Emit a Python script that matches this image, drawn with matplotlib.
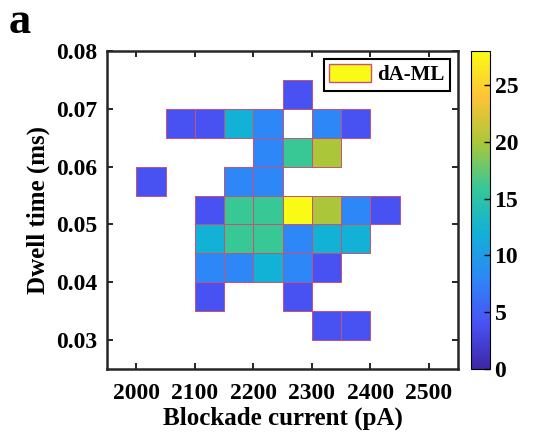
import numpy as np
import matplotlib
matplotlib.use("Agg")
import matplotlib.pyplot as plt
from matplotlib.colors import LinearSegmentedColormap, Normalize
from matplotlib.cm import ScalarMappable
from matplotlib.patches import Patch

# serif bold, like the MATLAB figure
matplotlib.rc('font', family='Liberation Serif', weight='bold')

# bin edges
x_edges = np.arange(2000, 2451, 50)          # blockade current (pA)
y_edges = np.round(np.arange(0.030, 0.0751, 0.005), 3)   # dwell time (ms)

# counts per bin, rows = dwell time bins (low -> high), cols = current bins
nan = np.nan
counts = np.array([
    # 2000 2050 2100 2150 2200 2250 2300 2350 2400
    [nan, nan, nan, nan, nan, nan, 4,   4,   nan],   # 0.030
    [nan, nan, 4,   nan, nan, 4,   nan, nan, nan],   # 0.035
    [nan, nan, 8,   8,   12,  8,   4,   nan, nan],   # 0.040
    [nan, nan, 12,  16,  16,  8,   12,  12,  nan],   # 0.045
    [nan, nan, 4,   16,  16,  28,  20,  8,   4],     # 0.050
    [4,   nan, nan, 8,   8,   nan, nan, nan, nan],   # 0.055
    [nan, nan, nan, nan, 8,   16,  20,  nan, nan],   # 0.060
    [nan, 4,   4,   12,  8,   nan, 8,   4,   nan],   # 0.065
    [nan, nan, nan, nan, nan, 4,   nan, nan, nan],   # 0.070
])

# rough parula
parula = LinearSegmentedColormap.from_list('parula', [
    (0.2422, 0.1504, 0.6603),
    (0.2810, 0.3228, 0.9579),
    (0.1786, 0.5289, 0.9682),
    (0.0689, 0.6948, 0.8394),
    (0.2161, 0.7843, 0.5923),
    (0.6720, 0.7793, 0.2227),
    (0.9970, 0.7659, 0.2199),
    (0.9769, 0.9839, 0.0805),
])
norm = Normalize(vmin=0, vmax=28)

fig = plt.figure(figsize=(5.46, 4.43), dpi=100)
ax = fig.add_axes([0.196, 0.167, 0.643, 0.718])
cax = fig.add_axes([0.863, 0.167, 0.034, 0.718])

# draw only the bins that have counts (tile style)
iy, ix = np.where(~np.isnan(counts))
vals = counts[iy, ix]
ax.bar(x_edges[ix], np.diff(y_edges)[iy], width=np.diff(x_edges)[ix],
       bottom=y_edges[iy], align='edge', color=parula(norm(vals)),
       edgecolor='#c8507a', linewidth=0.7)

ax.set_xlim(1950, 2550)
ax.set_ylim(0.025, 0.08)
ax.set_xticks(np.arange(2000, 2501, 100))
ax.set_yticks([0.03, 0.04, 0.05, 0.06, 0.07, 0.08])
ax.set_yticklabels(['0.03', '0.04', '0.05', '0.06', '0.07', '0.08'])
ax.tick_params(direction='in', length=4, width=1.2, labelsize=17,
               top=True, right=True)
ax.tick_params(axis='x', pad=10)
ax.tick_params(axis='y', pad=7)
for sp in ax.spines.values():
    sp.set_linewidth(1.8)
    sp.set_color('#262626')

ax.set_xlabel('Blockade current (pA)', fontsize=18, fontweight='bold',
              labelpad=2)
ax.set_ylabel('Dwell time (ms)', fontsize=18, fontweight='bold')

leg = ax.legend(handles=[Patch(facecolor=(0.9769, 0.9839, 0.0805),
                               edgecolor='#c8507a', label='dA-ML')],
                loc='upper right', fontsize=15, fancybox=False,
                framealpha=1, edgecolor='black',
                handlelength=2.0, handleheight=0.9, borderpad=0.25,
                handletextpad=0.3, borderaxespad=0.4)
leg.get_frame().set_linewidth(1.5)

sm = ScalarMappable(norm=norm, cmap=parula)
cb = fig.colorbar(sm, cax=cax)
cb.set_ticks([0, 5, 10, 15, 20, 25])
cb.ax.tick_params(direction='in', length=4, width=1, labelsize=17)
cb.outline.set_linewidth(0.8)

fig.text(0.015, 0.925, 'a', fontsize=32, fontweight='bold')

plt.savefig('out.png', dpi=100)
